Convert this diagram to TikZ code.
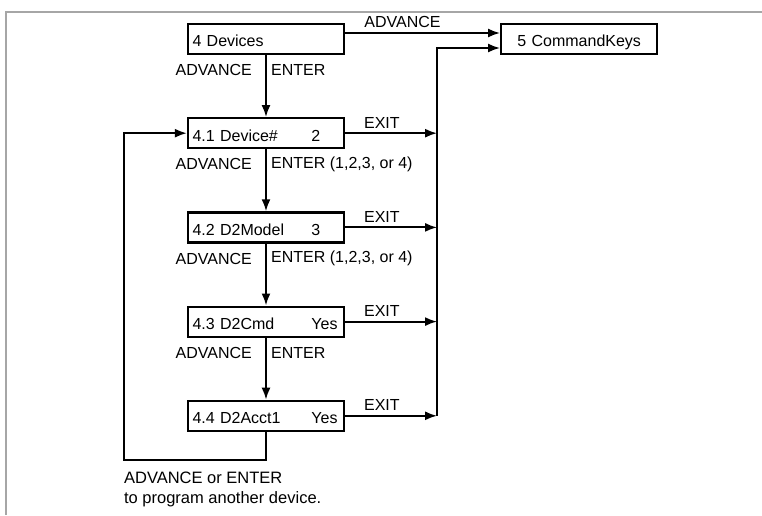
\documentclass[tikz,border=0pt]{standalone}
\usepackage{fontspec}
\setmainfont{Liberation Sans}
\usetikzlibrary{arrows.meta,positioning,calc}

\begin{document}
\begin{tikzpicture}[x=1pt,y=1pt,
  menu/.style={draw,line width=2.2pt,minimum width=156pt,minimum height=30pt,inner xsep=4pt,inner ysep=2pt,
    text width=147pt,align=left,text height=17pt,text depth=1pt,font=\fontsize{16}{18}\selectfont},
  lbl/.style={inner sep=1pt,font=\fontsize{16}{18}\selectfont},
  arr/.style={-{Latex[length=12pt,width=9pt]},line width=2pt}]
\useasboundingbox (0,0) rectangle (762,515);
\draw[gray!70,line width=1.5pt] (6,0) -- (6,503) -- (762,503);
% menu boxes
\node[menu] (dev) at (266,476) {4 Devices};
\node[menu,align=center,right=155pt of dev] (keys) {5 CommandKeys};
\node[menu,below=62pt of dev] (d1) {\makebox[119pt][l]{4.1 Device\#}2};
\node[menu,below=62pt of d1] (d2) {\makebox[119pt][l]{4.2 D2Model}3};
\node[menu,below=62pt of d2] (d3) {\makebox[119pt][l]{4.3 D2Cmd}Yes};
\node[menu,below=62pt of d3] (d4) {\makebox[119pt][l]{4.4 D2Acct1}Yes};
\coordinate (bus) at ([xshift=-63pt,yshift=-9pt]keys.west);
\coordinate (lb) at ([xshift=-63pt,yshift=-28pt]d4.south west);
% down the list
\draw[arr] (dev.south) -- (d1.north); \draw[arr] (d1.south) -- (d2.north);
\draw[arr] (d2.south) -- (d3.north); \draw[arr] (d3.south) -- (d4.north);
\node[lbl,anchor=east] at ([xshift=-13pt,yshift=-15pt]dev.south) {ADVANCE};
\node[lbl,anchor=west] at ([xshift=4pt,yshift=-15pt]dev.south) {ENTER};
\node[lbl,anchor=east] at ([xshift=-13pt,yshift=-15pt]d1.south) {ADVANCE};
\node[lbl,anchor=west] at ([xshift=4pt,yshift=-15pt]d1.south) {ENTER (1,2,3, or 4)};
\node[lbl,anchor=east] at ([xshift=-13pt,yshift=-15pt]d2.south) {ADVANCE};
\node[lbl,anchor=west] at ([xshift=4pt,yshift=-15pt]d2.south) {ENTER (1,2,3, or 4)};
\node[lbl,anchor=east] at ([xshift=-13pt,yshift=-15pt]d3.south) {ADVANCE};
\node[lbl,anchor=west] at ([xshift=4pt,yshift=-15pt]d3.south) {ENTER};
% exits to the command keys
\draw[arr] ([yshift=6pt]dev.east) -- ([yshift=6pt]keys.west) node[lbl,pos=0.37,above=3pt] {ADVANCE};
\draw[arr] (d1.east) -- (d1.east -| bus) node[lbl,pos=0.4,above=3pt] {EXIT};
\draw[arr] (d2.east) -- (d2.east -| bus) node[lbl,pos=0.4,above=3pt] {EXIT};
\draw[arr] (d3.east) -- (d3.east -| bus) node[lbl,pos=0.4,above=3pt] {EXIT};
\draw[arr] (d4.east) -- (d4.east -| bus) node[lbl,pos=0.4,above=3pt] {EXIT};
\draw[arr] (d4.east -| bus) -- (bus) -- ([yshift=-9pt]keys.west);
% back to 4.1
\draw[arr] (d4.south) |- (lb) |- (d1.west);
\node[lbl,align=left,inner sep=0pt,font=\fontsize{16.5}{20}\selectfont,below right=12pt and 0pt of lb] (note)
  {ADVANCE or ENTER\\to program another device.};
\end{tikzpicture}
\end{document}
